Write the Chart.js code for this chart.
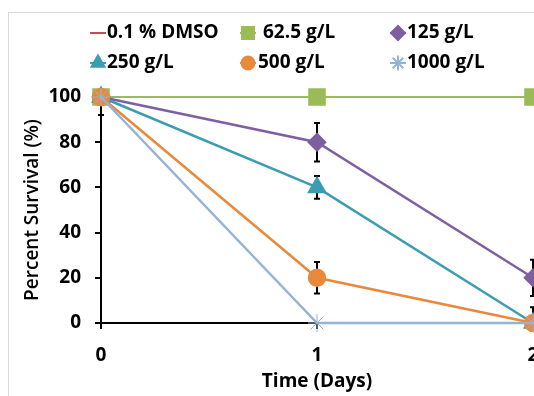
<!DOCTYPE html>
<html>
<head>
<meta charset="utf-8">
<script src="https://cdn.jsdelivr.net/npm/chart.js@4.4.1/dist/chart.umd.min.js"></script>
<style>
  html, body { margin: 0; padding: 0; background: #fff; overflow: hidden; }
  #wrap { width: 534px; height: 396px; overflow: hidden; }
</style>
</head>
<body>
<div id="wrap"><canvas id="chart" width="580" height="396"></canvas></div>
<script>
// time points (days)
const days = [0, 1, 2];
const xTicks = [0, 1, 2];
const yTicks = [0, 20, 40, 60, 80, 100];

// percent survival per treatment
const seriesNames = ['0.1 % DMSO', '62.5 g/L', '125 g/L', '250 g/L', '500 g/L', '1000 g/L'];
const dmso = [100, 100, 100];
const g62 = [100, 100, 100];
const g125 = [100, 80, 20];
const g250 = [100, 60, 0];
const g500 = [100, 20, 0];
const g1000 = [100, 0, 0];

// error bar half widths
const err62 = [0, 0, 0];
const err125 = [0, 8.5, 8];
const err250 = [0, 5, 7];
const err500 = [0, 7, 0];
const err1000 = [8, 0, 0];

const FONT = "'Open Sans', sans-serif";

function pts(vals, errs) {
  return days.map((d, i) => ({ x: d, y: vals[i], e: errs ? errs[i] : 0 }));
}

const datasets = [
  { label: seriesNames[0], data: pts(dmso), borderColor: '#C0504D', borderWidth: 2, pointRadius: 0, pointStyle: false, order: 6 },
  { label: seriesNames[1], data: pts(g62, err62), borderColor: '#9BBB59', backgroundColor: '#9BBB59', borderWidth: 2, pointStyle: 'rect', pointRadius: 11, legendRadius: 8.5, order: 5 },
  { label: seriesNames[2], data: pts(g125, err125), borderColor: '#7E5FA0', backgroundColor: '#7E5FA0', borderWidth: 2.5, pointStyle: 'rectRot', pointRadius: 8, legendRadius: 7, order: 4 },
  { label: seriesNames[3], data: pts(g250, err250), borderColor: '#3A9DB2', backgroundColor: '#3A9DB2', borderWidth: 2.5, pointStyle: 'triangle', pointRadius: 9, legendRadius: 7.5, order: 3 },
  { label: seriesNames[4], data: pts(g500, err500), borderColor: '#E8893C', backgroundColor: '#E8893C', borderWidth: 2.5, pointStyle: 'circle', pointRadius: 8, legendRadius: 6.5, order: 2 },
  { label: seriesNames[5], data: pts(g1000, err1000), borderColor: '#95B3D7', backgroundColor: '#95B3D7', borderWidth: 2.5, pointStyle: 'star', pointRadius: 9, legendRadius: 7.5, pointBorderWidth: 1, order: 1 }
];
datasets.forEach(ds => { ds.tension = 0; ds.clip = false; ds.pointBorderColor = ds.borderColor; ds.pointHoverRadius = ds.pointRadius; });

// light frame around the whole chart
const framePlugin = {
  id: 'frame',
  beforeDraw(chart) {
    const ctx = chart.ctx;
    ctx.save();
    ctx.strokeStyle = '#d9d9d9';
    ctx.lineWidth = 1;
    ctx.strokeRect(8.5, 12.5, 700, 500);
    ctx.restore();
  }
};

// vertical error bars from the data's e field
const errorBarPlugin = {
  id: 'errorBars',
  beforeDatasetsDraw(chart) {
    const ctx = chart.ctx;
    const xs = chart.scales.x, ys = chart.scales.y;
    const area = chart.chartArea;
    ctx.save();
    ctx.beginPath();
    ctx.rect(area.left - 10, area.top, area.right - area.left + 20, area.bottom - area.top);
    ctx.clip();
    ctx.strokeStyle = '#000';
    ctx.lineWidth = 2;
    chart.data.datasets.forEach(ds => {
      ds.data.forEach(p => {
        if (!p.e) return;
        const x = xs.getPixelForValue(p.x);
        const y1 = ys.getPixelForValue(p.y + p.e);
        const y2 = ys.getPixelForValue(p.y - p.e);
        ctx.beginPath();
        ctx.moveTo(x, y1); ctx.lineTo(x, y2);
        ctx.moveTo(x - 3, y1); ctx.lineTo(x + 3, y1);
        ctx.moveTo(x - 3, y2); ctx.lineTo(x + 3, y2);
        ctx.stroke();
      });
    });
    ctx.restore();
  }
};

// legend laid out in three columns like the original
const legendPlugin = {
  id: 'colLegend',
  afterDraw(chart) {
    const ctx = chart.ctx;
    const cols = [90, 240, 390];
    const textX = [[107, 263, 407], [107, 258, 407]];
    const rows = [33, 63];
    ctx.save();
    chart.data.datasets.forEach((ds, i) => {
      const r = Math.floor(i / 3), c = i % 3;
      const x0 = cols[c], y = rows[r];
      ctx.strokeStyle = ds.borderColor;
      ctx.fillStyle = ds.backgroundColor || ds.borderColor;
      ctx.lineWidth = 2;
      ctx.beginPath();
      ctx.moveTo(x0, y); ctx.lineTo(x0 + 16, y);
      ctx.stroke();
      if (ds.pointStyle) {
        Chart.helpers.drawPoint(ctx, {
          pointStyle: ds.pointStyle,
          radius: ds.legendRadius,
          rotation: 0,
          borderWidth: ds.pointBorderWidth || 1
        }, x0 + 8, y);
      }
      ctx.fillStyle = '#000';
      ctx.font = 'bold 19px ' + FONT;
      ctx.textBaseline = 'middle';
      ctx.textAlign = 'left';
      ctx.fillText(ds.label, textX[r][c], y);
    });
    ctx.restore();
  }
};

new Chart(document.getElementById('chart'), {
  type: 'line',
  data: { datasets: datasets },
  options: {
    responsive: false,
    animation: false,
    events: [],
    layout: { padding: { left: 8, top: 97, right: 47, bottom: 0 } },
    plugins: { legend: { display: false }, tooltip: { enabled: false } },
    scales: {
      x: {
        type: 'linear', min: 0, max: 2,
        afterBuildTicks(scale) { scale.ticks = xTicks.map(v => ({ value: v })); },
        afterFit(scale) { scale.height = 73; },
        grid: { drawOnChartArea: false, color: '#000', lineWidth: 2, tickLength: 6 },
        border: { color: '#000', width: 2 },
        ticks: { color: '#000', padding: 15, font: { family: FONT, size: 19, weight: 'bold' } },
        title: { display: true, text: 'Time (Days)', color: '#000', padding: { top: 0, bottom: 3 }, font: { family: FONT, size: 19, weight: 'bold' } }
      },
      y: {
        min: 0, max: 100,
        afterBuildTicks(scale) { scale.ticks = yTicks.map(v => ({ value: v })); },
        afterFit(scale) { scale.width = 93; },
        grid: { drawOnChartArea: false, color: '#000', lineWidth: 2, tickLength: 6 },
        border: { color: '#000', width: 2 },
        ticks: { color: '#000', padding: 14, font: { family: FONT, size: 19, weight: 'bold' } },
        title: { display: true, text: 'Percent Survival (%)', color: '#000', padding: { top: 13, bottom: 0 }, font: { family: FONT, size: 19, weight: '600' } }
      }
    }
  },
  plugins: [framePlugin, errorBarPlugin, legendPlugin]
});
</script>
</body>
</html>
